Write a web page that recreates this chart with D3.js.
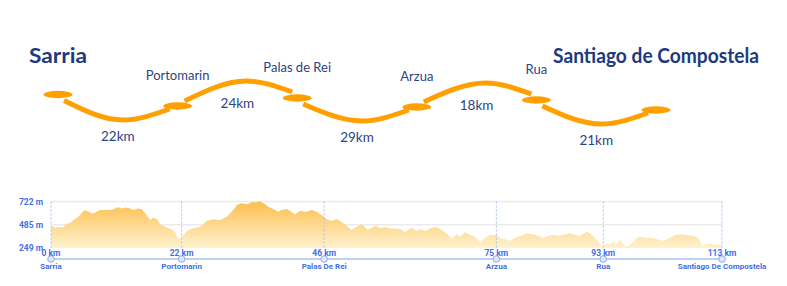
<!DOCTYPE html>
<html>
<head>
<meta charset="utf-8">
<script src="https://cdn.jsdelivr.net/npm/d3@7"></script>
<style>
    body { margin: 0; background: #fff; }
    svg { display: block; }
</style>
</head>
<body>
<svg id="chart" width="787" height="286"></svg>
<script>
const stations = ["Sarria", "Portomarin", "Palas de Rei", "Arzua", "Rua", "Santiago de Compostela"];
const stageKm = [22, 24, 29, 18, 21];

const stopNames = ["Sarria", "Portomarin", "Palas De Rei", "Arzua", "Rua", "Santiago De Compostela"];
const stopKm = [0, 22, 46, 75, 93, 113];
const elevTicks = [249, 485, 722];

const profileKm = [0, 0.3, 0.7, 1.2, 2.1, 2.5, 3.2, 3.8, 4.6, 5.3, 5.7, 6.3, 7.1, 8.3, 9.4, 10.2, 10.6, 11.3, 11.9, 12.5,
    13.3, 13.9, 14.7, 15.3, 16.1, 16.7, 17.2, 17.8, 18.4, 19.2, 20.3, 20.9, 21.4, 21.8, 22.3, 23.1, 24.0, 25.1, 26.2, 27.3,
    28.5, 29.6, 30.7, 31.3, 32.1, 33.0, 33.8, 34.5, 35.2, 35.8, 36.6, 37.4, 38.3, 38.8, 39.7, 40.3, 41.1, 41.9, 42.9, 43.9,
    44.7, 45.6, 46.4, 47.3, 48.1, 49.0, 49.8, 50.6, 51.5, 52.3, 53.4, 54.6, 55.4, 56.2, 57.1, 58.8, 59.6, 60.7, 61.6, 62.1,
    63.0, 64.1, 65.0, 65.8, 66.6, 67.5, 68.3, 68.9, 69.7, 70.6, 71.4, 72.2, 73.1, 73.9, 75.1, 75.6, 76.5, 77.3, 78.4, 79.3,
    80.1, 81.2, 82.0, 82.9, 83.7, 84.6, 85.7, 86.6, 87.4, 88.3, 89.1, 90.2, 91.1, 92.2, 92.7, 93.3, 94.1, 94.7, 95.2, 95.8,
    96.3, 96.9, 97.8, 98.6, 99.2, 100.0, 100.9, 102.0, 103.1, 104.2, 105.1, 105.9, 107.0, 108.2, 109.0, 109.6, 110.3, 111.0,
    111.8, 112.4, 113.0];
const profileElev = [449, 476, 456, 462, 459, 496, 503, 534, 568, 612, 635, 618, 601, 635, 638, 635, 646, 663, 652, 660,
    652, 635, 652, 642, 585, 534, 557, 545, 490, 466, 439, 408, 347, 341, 381, 432, 449, 466, 524, 541,
    534, 567, 635, 686, 703, 695, 714, 714, 722, 703, 669, 646, 618, 635, 646, 625, 591, 625, 618, 635,
    618, 585, 544, 524, 544, 510, 476, 432, 466, 490, 432, 476, 449, 459, 449, 442, 408, 456, 422, 439,
    422, 456, 459, 432, 398, 341, 388, 364, 408, 381, 364, 313, 354, 381, 381, 347, 341, 320, 364, 374,
    398, 388, 374, 347, 374, 381, 374, 388, 398, 381, 374, 415, 381, 313, 262, 296, 286, 313, 286, 330,
    300, 262, 296, 347, 364, 354, 354, 340, 320, 354, 381, 388, 381, 374, 347, 279, 286, 296,
    279, 286, 280];

const svg = d3.select("#chart");

const orange = "#ffa000";
const navy = "#1d3a7e";
const blue = "#3f6fe6";

// ---- route diagram ----
const nodeY = [94.5, 106, 98, 107, 100, 110];
const rx = d3.scalePoint().domain(stations).range([58, 656]);

const routeLine = d3.line().curve(d3.curveMonotoneX);
const route = svg.append("g");

for (let i = 0; i < stations.length - 1; i++) {
    const x0 = rx(stations[i]), x1 = rx(stations[i + 1]);
    const y0 = nodeY[i], y1 = nodeY[i + 1];
    const down = i % 2 == 0;
    const mx = (x0 + x1) / 2;
    let pts, labelY;
    if (down) {
        const ey = Math.max(y0, y1) + 14;
        pts = [[x0 + 6, y0 + 6], [mx + 5, ey], [x1 - 8, y1 + 3]];
        labelY = ey + 21;
    } else {
        const ey = Math.min(y0, y1) - 17;
        pts = [[x0 + 7, y0 - 5], [mx + 9, ey], [x1 - 5, y1 - 6]];
        labelY = ey + 27;
    }
    route.append("path")
        .attr("d", routeLine(pts))
        .attr("fill", "none")
        .attr("stroke", orange)
        .attr("stroke-width", 5);

    route.append("text")
        .attr("x", mx)
        .attr("y", labelY)
        .attr("text-anchor", "middle")
        .attr("font-family", "Lato")
        .attr("font-size", 13.5)
        .attr("fill", "#2a4584")
        .text(stageKm[i] + "km");
}

stations.forEach((name, i) => {
    route.append("ellipse")
        .attr("cx", rx(name))
        .attr("cy", nodeY[i])
        .attr("rx", 14.5)
        .attr("ry", 3.7)
        .attr("fill", orange);

    const big = i == 0 || i == stations.length - 1;
    const t = route.append("text")
        .attr("x", rx(name))
        .attr("y", big ? 63 : nodeY[i] - 26)
        .attr("text-anchor", "middle")
        .attr("font-family", "Lato")
        .attr("font-size", big ? 21 : 13)
        .attr("font-weight", big ? 700 : 400)
        .attr("fill", big ? navy : "#2a4584")
        .text(name);
    if (i == stations.length - 1) t.attr("textLength", 206).attr("lengthAdjust", "spacingAndGlyphs");
    if (i == 0) t.attr("textLength", 58).attr("lengthAdjust", "spacingAndGlyphs");
});

// ---- elevation profile ----
const x = d3.scaleLinear().domain([0, 113]).range([51, 722]);
const y = d3.scaleLinear().domain([249, 722]).range([248, 201.5]);

const defs = svg.append("defs");
const grad = defs.append("linearGradient")
    .attr("id", "elevGrad")
    .attr("gradientUnits", "userSpaceOnUse")
    .attr("x1", 0).attr("x2", 0)
    .attr("y1", y(722)).attr("y2", y(249));
grad.append("stop").attr("offset", 0).attr("stop-color", "#fcbf4e");
grad.append("stop").attr("offset", 1).attr("stop-color", "#fff2cf");

svg.append("g")
    .selectAll("line")
    .data(elevTicks.slice(1))
    .join("line")
    .attr("x1", x(0)).attr("x2", x(113))
    .attr("y1", d => y(d)).attr("y2", d => y(d))
    .attr("stroke", "#ebebeb")
    .attr("stroke-width", 1.5);

const profile = profileKm.map((k, i) => [k, profileElev[i]]);
svg.append("path")
    .datum(profile)
    .attr("fill", "url(#elevGrad)")
    .attr("d", d3.area().x(d => x(d[0])).y0(y(249)).y1(d => y(d[1])));

svg.append("g")
    .selectAll("line")
    .data(stopKm)
    .join("line")
    .attr("x1", d => x(d)).attr("x2", d => x(d))
    .attr("y1", y(722)).attr("y2", y(249))
    .attr("stroke", "#a9c0f3")
    .attr("stroke-width", 1)
    .attr("stroke-dasharray", "2,2");

svg.append("g")
    .selectAll("text")
    .data(elevTicks)
    .join("text")
    .attr("x", 43)
    .attr("y", d => y(d) + 3)
    .attr("text-anchor", "end")
    .attr("font-family", "Roboto")
    .attr("font-weight", 700)
    .attr("font-size", 8.5)
    .attr("fill", blue)
    .text(d => d + " m");

svg.append("line")
    .attr("x1", x(0)).attr("x2", x(113))
    .attr("y1", 259).attr("y2", 259)
    .attr("stroke", "#a9c0f3")
    .attr("stroke-width", 1.5);

const stops = svg.append("g")
    .selectAll("g")
    .data(stopKm)
    .join("g")
    .attr("transform", d => `translate(${x(d)},0)`);

stops.append("circle")
    .attr("cy", 259)
    .attr("r", 3.3)
    .attr("fill", "#dfe8fc")
    .attr("stroke", "#8eaaf0")
    .attr("stroke-width", 1);

stops.append("text")
    .attr("y", 256)
    .attr("text-anchor", "middle")
    .attr("font-family", "Roboto")
    .attr("font-weight", 700)
    .attr("font-size", 8.5)
    .attr("fill", blue)
    .text(d => d + " km");

stops.append("text")
    .attr("y", 269)
    .attr("text-anchor", "middle")
    .attr("font-family", "Roboto")
    .attr("font-weight", 700)
    .attr("font-size", 8)
    .attr("fill", blue)
    .text((d, i) => stopNames[i]);
</script>
</body>
</html>
